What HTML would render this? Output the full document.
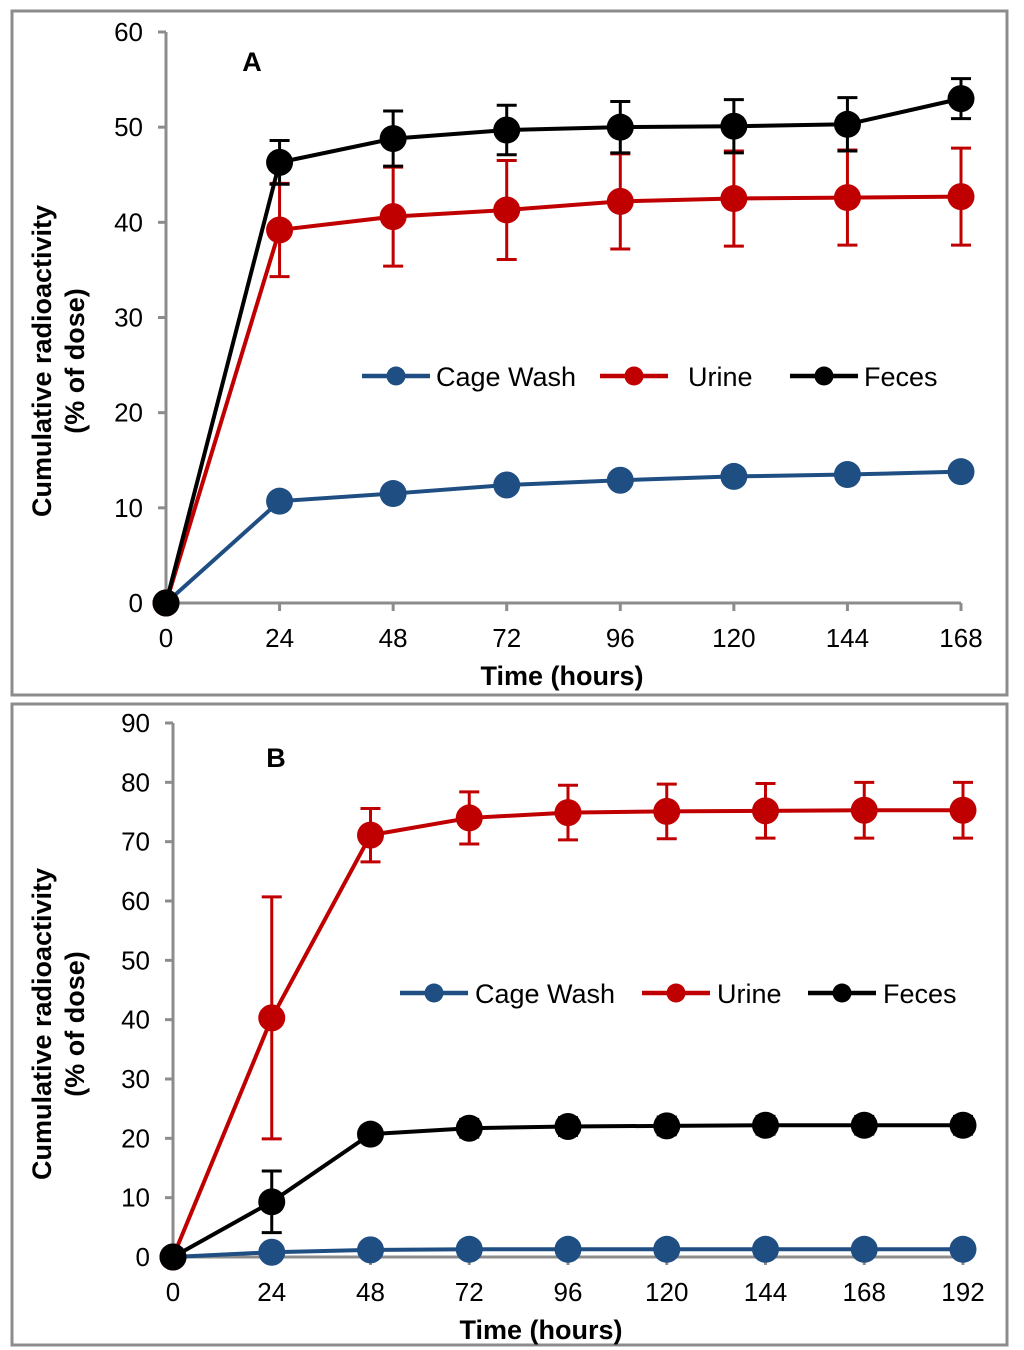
<!DOCTYPE html>
<html><head><meta charset="utf-8"><style>
body{margin:0;background:#fff;width:1024px;height:1350px;overflow:hidden}
svg{display:block;font-family:"Liberation Sans",Arial,sans-serif}
</style></head><body>
<svg id="chart" width="1024" height="1350" viewBox="0 0 1024 1350" xmlns="http://www.w3.org/2000/svg"></svg>
<script>
// Panel A data
const hoursA = [0,24,48,72,96,120,144,168];
const cageA = [0,10.7,11.5,12.4,12.9,13.3,13.5,13.8];
const urineA = [0,39.2,40.6,41.3,42.2,42.5,42.6,42.7];
const urineErrA = [0,4.9,5.2,5.2,5.0,5.0,5.0,5.1];
const fecesA = [0,46.3,48.8,49.7,50.0,50.1,50.3,53.0];
const fecesErrA = [0,2.3,2.9,2.6,2.7,2.8,2.8,2.1];
const yTicksA = [0,10,20,30,40,50,60];
// Panel B data
const hoursB = [0,24,48,72,96,120,144,168,192];
const cageB = [0,0.8,1.2,1.3,1.3,1.3,1.3,1.3,1.3];
const urineB = [0,40.3,71.1,74.0,74.9,75.1,75.2,75.3,75.3];
const urineErrB = [0,20.4,4.5,4.4,4.6,4.6,4.6,4.7,4.7];
const fecesB = [0,9.3,20.7,21.7,22.0,22.1,22.2,22.2,22.2];
const fecesErrB = [0,5.2,1.0,1.5,1.5,1.5,1.5,1.5,1.5];
const yTicksB = [0,10,20,30,40,50,60,70,80,90];

const NS="http://www.w3.org/2000/svg";
const svg=document.getElementById('chart');
function mk(tag,attrs,parent,text){const e=document.createElementNS(NS,tag);for(const k in attrs)e.setAttribute(k,attrs[k]);if(text!==undefined)e.textContent=text;(parent||svg).appendChild(e);return e;}
const BLUE='#1f4e83',RED='#c00000',BLACK='#000';

function panel(cfg){
  const g=mk('g',{});
  
  
  const fr=mk('rect',{x:cfg.fx,y:cfg.fy,width:cfg.fw,height:cfg.fh,fill:'none',stroke:'#8c8c8c','stroke-width':3},g);
  
  
  const X=v=>cfg.x0+(v-cfg.xmin)/(cfg.xmax-cfg.xmin)*(cfg.x1-cfg.x0);
  const Y=v=>cfg.y0-(v-cfg.ymin)/(cfg.ymax-cfg.ymin)*(cfg.y0-cfg.y1);
  const ya=mk('line',{x1:cfg.x0,y1:cfg.y0,x2:cfg.x0,y2:cfg.y1,stroke:'#8c8c8c','stroke-width':3},g);
  
  
  const xa=mk('line',{x1:cfg.x0,y1:cfg.y0,x2:cfg.x1,y2:cfg.y0,stroke:'#8c8c8c','stroke-width':3},g);
  
  
  cfg.yTicks.forEach(t=>{
    mk('line',{x1:cfg.x0-8,y1:Y(t),x2:cfg.x0,y2:Y(t),stroke:'#8c8c8c','stroke-width':3},g);
    const tl=mk('text',{x:cfg.x0-23,y:Y(t)+9,'font-size':26,'text-anchor':'end'},g,String(t));
    
    
  });
  cfg.hours.forEach(h=>{
    mk('line',{x1:X(h),y1:cfg.y0,x2:X(h),y2:cfg.y0+8,stroke:'#8c8c8c','stroke-width':3},g);
    const tl=mk('text',{x:X(h),y:cfg.y0+44,'font-size':26,'text-anchor':'middle'},g,String(h));
    
    
  });
  const xt=mk('text',{x:cfg.xtx,y:cfg.y0+82,'font-size':27,'font-weight':'bold','text-anchor':'middle'},g,'Time (hours)');
  
  
  const yt=mk('text',{transform:`translate(51,${cfg.ycenter}) rotate(-90)`,'font-size':27,'font-weight':'bold','text-anchor':'middle'},g);
  
  
  mk('tspan',{x:0,y:0},yt,'Cumulative radioactivity');
  mk('tspan',{x:0,y:33},yt,'(% of dose)');
  const lab=mk('text',{x:cfg.lx,y:cfg.ly,'font-size':27,'font-weight':'bold','text-anchor':'middle'},g,cfg.label);
  
  
  cfg.series.forEach(s=>{
    const sg=mk('g',{},g);
    
    
    if(s.err){
      cfg.hours.forEach((h,i)=>{
        const e=s.err[i]; if(!e) return;
        const x=X(h),yt=Y(s.vals[i]+e),yb=Y(s.vals[i]-e);
        const eb=mk('path',{d:`M${x},${yt}V${yb}M${x-10},${yt}H${x+10}M${x-10},${yb}H${x+10}`,stroke:s.color,'stroke-width':3,fill:'none'},sg);
        
        
      });
    }
    const pts=cfg.hours.map((h,i)=>X(h)+','+Y(s.vals[i])).join(' ');
    const pl=mk('polyline',{points:pts,fill:'none',stroke:s.color,'stroke-width':4},sg);
    
    
    cfg.hours.forEach((h,i)=>{
      const c=mk('circle',{cx:X(h),cy:Y(s.vals[i]),r:13.5,fill:s.color},sg);
      
      
    });
  });
  const lg=mk('g',{},g);
  
  
  cfg.legend.forEach((L,i)=>{
    const s=cfg.series[i];
    const eg=mk('g',{},lg);
    
    
    mk('line',{x1:L[0],y1:cfg.legY,x2:L[0]+68,y2:cfg.legY,stroke:s.color,'stroke-width':4.5},eg);
    mk('circle',{cx:L[0]+34,cy:cfg.legY,r:9.5,fill:s.color},eg);
    mk('text',{x:L[1],y:cfg.legY+10,'font-size':27},eg,s.name);
  });
}

panel({name:'panel-a',label:'A',lx:252,ly:71,fx:12,fy:11,fw:995,fh:684,
  x0:166,x1:961,xmin:0,xmax:168,y0:603,y1:32,ymin:0,ymax:60,ycenter:361,xtx:562,
  hours:hoursA,yTicks:yTicksA,legY:376,legend:[[362,436],[600,688],[790,864]],
  series:[{key:'cage-wash',name:'Cage Wash',color:BLUE,vals:cageA},
          {key:'urine',name:'Urine',color:RED,vals:urineA,err:urineErrA},
          {key:'feces',name:'Feces',color:BLACK,vals:fecesA,err:fecesErrA}]});
panel({name:'panel-b',label:'B',lx:276,ly:767,fx:12,fy:704,fw:995,fh:641,
  x0:173,x1:963,xmin:0,xmax:192,y0:1257,y1:723,ymin:0,ymax:90,ycenter:1024,xtx:541,
  hours:hoursB,yTicks:yTicksB,legY:993,legend:[[400,475],[642,717],[808,883]],
  series:[{key:'cage-wash',name:'Cage Wash',color:BLUE,vals:cageB},
          {key:'urine',name:'Urine',color:RED,vals:urineB,err:urineErrB},
          {key:'feces',name:'Feces',color:BLACK,vals:fecesB,err:fecesErrB}]});
</script>
</body></html>
